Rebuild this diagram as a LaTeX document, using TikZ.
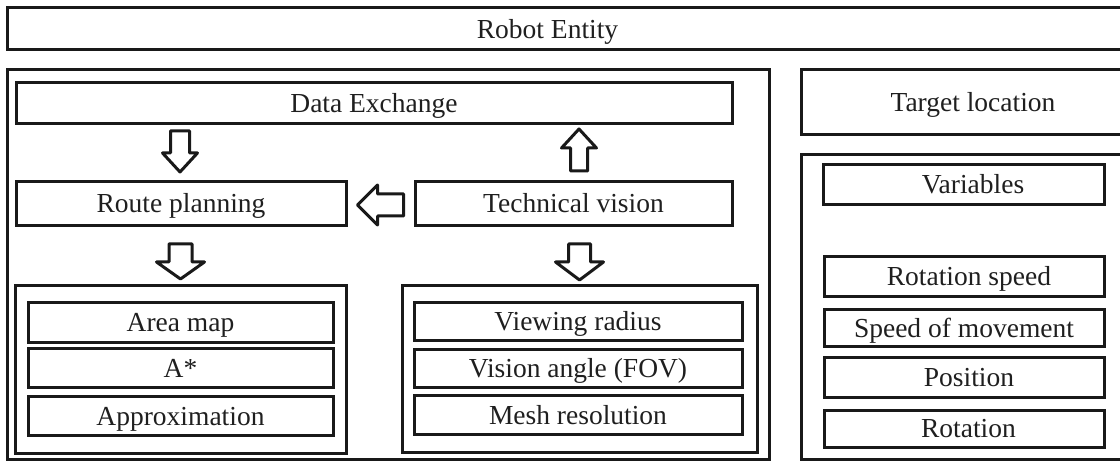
\documentclass[tikz,border=0pt]{standalone}
\usepackage{fontspec}
\setmainfont{Liberation Serif}
\usetikzlibrary{calc}
\begin{document}
\begin{tikzpicture}[x=1pt,y=-1pt,
  ink/.style={line width=3pt, draw=black!90},
  box/.style={ink, rectangle, inner sep=0pt, text=black!88,
    font=\fontsize{27.5}{30}\selectfont, text height=22.5pt, text depth=5pt},
  group/.style={ink, rectangle, inner sep=0pt},
  arrowline/.style={ink, line join=round, fill=white},
  arrshaft/.store in=\shaftw, arrhead/.store in=\headw,
  arrheadlen/.store in=\headl, arrlen/.store in=\arrl,
  arrshaft=20, arrhead=40, arrheadlen=18, arrlen=40,
  % hollow block arrow pointing down, centred on the pic origin
  blockarrow/.pic={
    \draw[arrowline] (-\shaftw/2,-\arrl/2) -- (\shaftw/2,-\arrl/2)
      -- (\shaftw/2,\arrl/2-\headl) -- (\headw/2,\arrl/2-\headl)
      -- (0,\arrl/2) -- (-\headw/2,\arrl/2-\headl)
      -- (-\shaftw/2,\arrl/2-\headl) -- cycle;
  }]
\useasboundingbox (0,0) rectangle (1120,462);
\clip (0,0) rectangle (1120,462);

% top bar
\node[box, minimum width=1143pt, minimum height=42pt, text height=24pt, text depth=4pt] (robot) at (578.5,29) {Robot Entity\hspace*{62pt}};

% main module
\node[group, minimum width=762pt, minimum height=389pt] (main) at (388,264.5) {};
\node[box, minimum width=716pt, minimum height=41pt] (dx) at (374,103.5) {Data Exchange};
\node[box, minimum width=330pt, minimum height=44pt] (route) at (181,204) {Route planning};
\node[box, minimum width=317pt, minimum height=44pt] (tech) at (573.5,204) {Technical vision};

% route planning contents
\node[group, minimum width=331pt, minimum height=167pt] (leftgroup) at (180.5,369.5) {};
\node[box, minimum width=305pt, minimum height=40pt] (area) at (180.5,323) {Area map};
\node[box, minimum width=305pt, minimum height=39pt] (astar) at (180.5,368.5) {A*};
\node[box, minimum width=305pt, minimum height=39pt] (approx) at (180.5,416.5) {Approximation};

% technical vision contents
\node[group, minimum width=355pt, minimum height=166pt] (rightgroup) at (579.5,369) {};
\node[box, minimum width=328pt, minimum height=38pt] (viewr) at (578,322) {Viewing radius};
\node[box, minimum width=328pt, minimum height=38pt] (fov) at (578,369) {Vision angle (FOV)};
\node[box, minimum width=328pt, minimum height=39pt] (mesh) at (578,415.5) {Mesh resolution};

% right column
\node[box, minimum width=349pt, minimum height=65pt] (target) at (975.5,102.5) {Target location\hspace*{5pt}};
\node[group, minimum width=349pt, minimum height=304pt] (varpanel) at (975.5,307) {};
\node[box, minimum width=281pt, minimum height=40pt] (vars) at (963.5,185) {\hspace*{19pt}Variables};
\node[box, minimum width=280pt, minimum height=40pt] (rotspeed) at (964,277) {\hspace*{10pt}Rotation speed};
\node[box, minimum width=280pt, minimum height=37pt] (speedmov) at (964,328.5) {Speed of movement};
\node[box, minimum width=280pt, minimum height=40pt] (pos) at (964,378) {\hspace*{10pt}Position};
\node[box, minimum width=280pt, minimum height=36pt] (rot) at (964,429) {\hspace*{9pt}Rotation};

% block arrows between the modules
\pic[arrshaft=19, arrhead=35, arrheadlen=19, arrlen=41]
  at ($(dx.south -| route.north)!0.5!(route.north)+(-1,-1.5)$) {blockarrow};
\pic[arrshaft=23, arrhead=48, arrheadlen=17, arrlen=35]
  at ($(route.south -| leftgroup.north)!0.5!(leftgroup.north)+(0,5.5)$) {blockarrow};
\pic[arrshaft=17, arrhead=35, arrheadlen=19, arrlen=42, rotate=180]
  at ($(tech.north)!0.5!(tech.north |- dx.south)+(5.5,-3)$) {blockarrow};
\pic[arrshaft=22, arrhead=48, arrheadlen=18, arrlen=36]
  at ($(tech.south -| rightgroup.north)!0.5!(rightgroup.north)+(0,6)$) {blockarrow};
\pic[arrshaft=22, arrhead=40, arrheadlen=20, arrlen=46, rotate=-90]
  at ($(tech.west)!0.5!(route.east)+(0,1)$) {blockarrow};
\end{tikzpicture}
\end{document}
